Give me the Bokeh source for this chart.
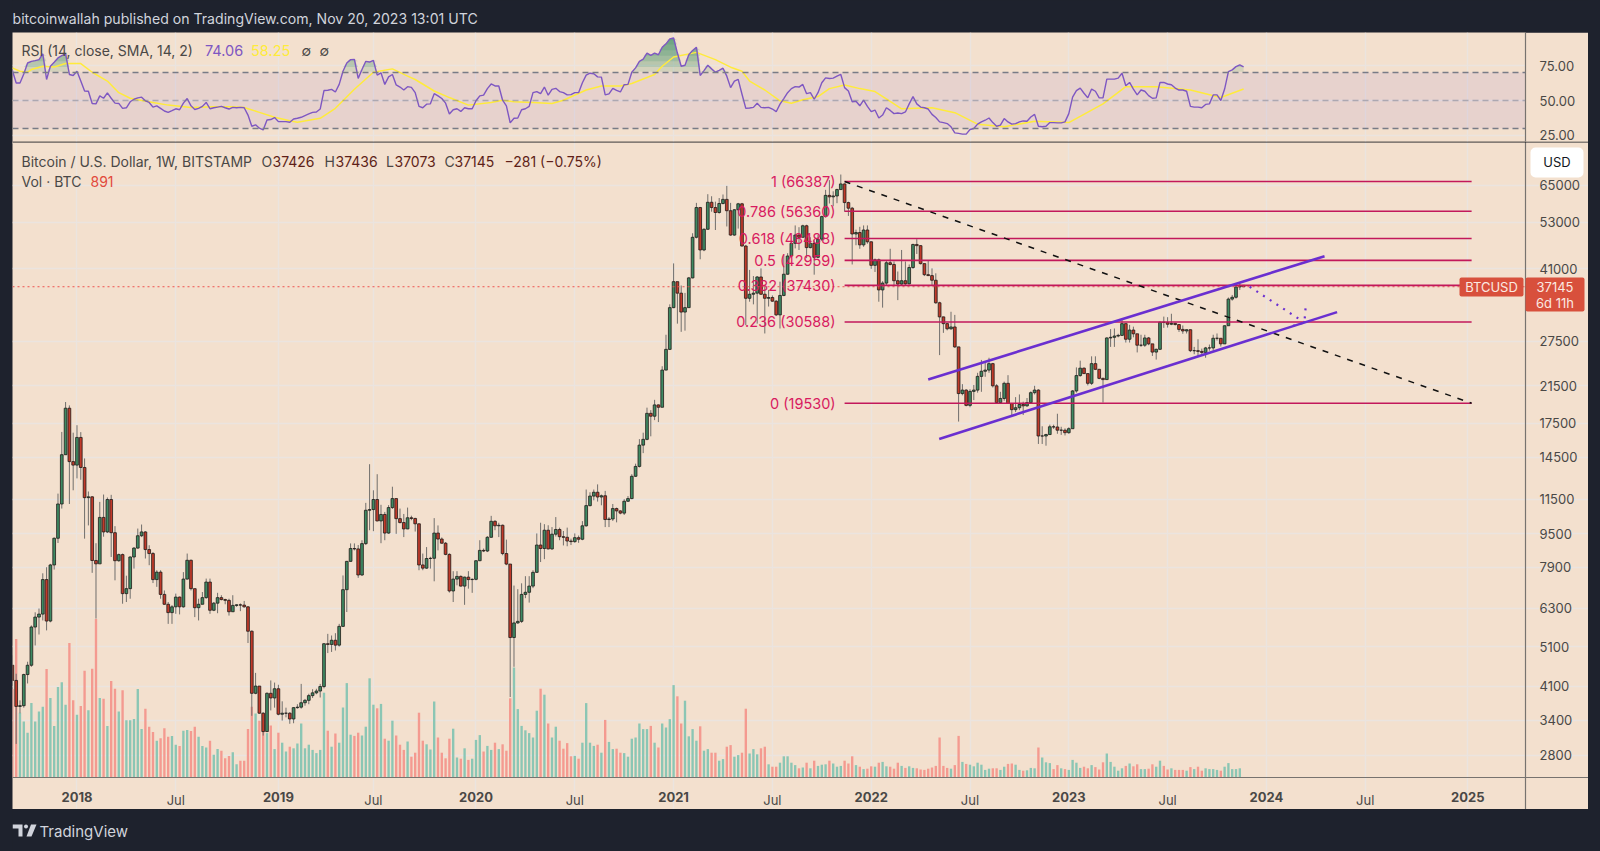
from bokeh.plotting import figure
from bokeh.layouts import column
from bokeh.models import (Range1d, FixedTicker, NumeralTickFormatter, Label, LabelSet, Span, BoxAnnotation,
                          ColumnDataSource, LinearAxis, LinearScale, GlobalInlineStyleSheet)
from bokeh.core.properties import value
from bokeh.embed import file_html
from bokeh.resources import INLINE
import numpy as np

# ---------- weekly data ----------
first_open = 4600
closes = [
 4230,3665,3680,4370,4600,5680,6000,6100,7380,5870,
 8000,9270,11200,14700,19000,14150,13880,16170,13700,11600,
 11650,8200,8050,10400,9600,11480,9560,8190,8470,6830,
 7020,8360,8780,9400,9600,8710,8520,7380,7690,6800,
 6440,6150,6350,6700,6350,7400,8210,7020,6320,6440,
 6680,7280,6230,6480,6680,6610,6580,6180,6400,6420,
 6410,6350,5550,3940,4100,3530,3190,3940,3840,4040,
 3510,3530,3530,3420,3640,3650,3740,3790,3890,3950,
 3990,4090,5180,5160,5280,5140,5700,6980,8160,8760,
 8740,7570,9000,10820,10860,11480,10200,10570,9540,10980,
 11540,10330,10110,9760,10380,10340,10040,8000,7860,8290,
 8300,9540,9230,9020,8480,6930,7400,7510,7120,7480,
 7380,7390,8190,8670,8640,9320,10180,9930,9960,8520,
 8040,5360,5810,5860,6800,6880,7120,7680,8930,8760,
 9690,8740,9480,9730,9350,9320,9130,9100,9300,9220,
 9930,11100,11700,11950,11640,11720,10280,10310,10920,10780,
 10650,11370,11540,13050,13780,15500,16000,18470,18180,19350,
 19100,23450,26290,33100,38200,35850,32300,33100,39000,48800,
 57500,45500,51000,59200,57500,55950,58800,60150,56500,49400,
 56800,58700,46500,34850,35640,35850,39200,35640,34850,35000,
 34300,31800,35400,39800,44000,47200,49400,48800,52000,46100,
 47200,43700,48300,54700,61500,61000,61300,63500,65500,59100,
 57300,49700,50100,46800,50800,47600,41800,43100,36500,37900,
 42400,42000,38400,37700,38400,37750,41300,46900,46600,42200,
 39700,39500,38500,34000,31450,30300,29450,29750,26650,20600,
 21000,19300,20850,21000,22650,23300,23450,24300,21500,19600,
 20050,21800,19500,18850,19050,19400,19250,19600,20700,21000,
 16300,16300,16430,17150,17130,16830,16830,16600,16970,20900,
 22750,23700,23000,21800,24300,23550,22400,22250,28000,28100,
 28300,28400,30300,27800,29250,28650,26900,26900,28000,27100,
 25900,26300,30550,30500,30200,30350,30150,29350,29100,29300,
 26100,26100,26000,25850,26500,26500,27950,27950,27100,29950,
 34700,35050,37100,37426,37145]
highs = [
 4860,4390,3790,4390,4690,5730,6160,6290,7640,7900,
 8050,9310,11860,16670,19660,19300,16600,17300,16650,14400,
 12000,11700,9020,11330,11800,11610,11780,9910,8520,8520,
 7540,8390,8830,9780,10000,9640,8920,8590,7770,7770,
 6950,6520,6410,6830,6720,7690,8520,8240,7020,6640,
 6890,7420,7420,6520,6860,6770,6640,6640,6770,6440,
 6470,6560,6370,5575,4410,4100,3550,3960,4230,4180,
 4130,3770,3640,3550,3650,3710,4150,3820,3930,4030,
 4040,4150,5200,5470,5420,5490,5780,7550,8180,9010,
 9010,8930,9170,11270,13950,12080,13200,11150,10720,11130,
 12320,11540,10920,10600,10980,10500,10380,10050,8520,8830,
 8370,10360,9950,9310,9080,8530,7730,7730,7550,7500,
 7730,7430,8200,9170,8760,9380,10490,10240,10100,10000,
 9200,8030,7140,7000,7230,7520,7520,7770,9520,10100,
 10020,9960,9860,10420,9830,9650,9830,9250,9520,9410,
 10190,12130,11950,12130,12480,11800,12040,10420,11200,10980,
 10820,11500,11700,13200,13990,16020,16600,19060,18800,19900,
 19400,23950,28500,33700,42250,38000,37400,35900,39200,49900,
 59000,57700,51300,61900,61200,59400,60600,61800,64800,59000,
 57000,59000,59000,46800,40750,39400,39400,41100,37400,36500,
 35400,34500,38200,44300,44700,47400,52100,51600,52300,52300,
 48800,48000,49400,55000,63400,66900,62900,63800,69000,65700,
 59400,57700,50900,51700,52100,52100,47700,43400,43400,38300,
 42800,45800,42700,40400,45500,42700,42000,47100,48300,46700,
 42200,43000,41100,40000,34200,31500,30400,32350,31800,26650,
 21700,21100,21100,21600,23100,24800,24500,25100,24400,21700,
 20800,22000,22800,19500,20200,20500,19700,20100,20850,21500,
 21100,17200,16500,17350,17350,18430,17150,17000,17100,21000,
 23800,24700,23800,23050,25300,25300,23600,22500,28100,29400,
 29500,28650,31000,30300,30100,29800,28500,28500,28500,28150,
 26900,26400,30650,31500,31400,32000,30450,30200,30000,29350,
 29350,26650,27800,26400,26650,27000,28500,28700,27950,30000,
 35000,35500,37200,37900,37436]
lows = [
 4100,2980,3530,3640,4160,4560,5130,5450,5890,5575,
 5830,7800,9030,10920,14700,11200,12080,12900,12800,9250,
 9950,7660,5950,8090,9350,9540,8360,7350,8140,6460,
 6520,6640,7840,8750,9330,8290,7990,7240,7090,6640,
 6420,5780,5780,6110,6090,6320,7380,6950,6000,5890,
 6440,6640,6110,6200,6130,6580,6440,6050,6170,6350,
 6200,6320,5200,3480,3920,3520,3120,3180,3585,3640,
 3490,3390,3450,3330,3340,3620,3620,3680,3710,3840,
 3920,3850,4050,4920,4950,4990,5100,5680,6170,8150,
 8670,7450,7530,8930,9690,9640,10180,9020,9170,9500,
 10900,9500,10060,9330,9750,10240,9620,7770,7770,7830,
 7840,7310,8670,9000,8440,6870,6520,7150,7100,6420,
 7020,6860,7350,8170,8590,8590,9300,9690,9330,8440,
 7990,3860,4560,5780,5810,6660,6500,7040,7660,8130,
 8260,8720,8700,9360,9170,8910,8870,8930,9040,9040,
 9170,9880,11050,11430,11350,11120,9860,9860,10200,10120,
 10580,10540,11330,11500,13000,13700,14830,15920,16270,17790,
 17600,19100,23450,26200,33000,30300,28960,29150,33100,38900,
 48500,43220,45200,50900,56200,50800,55600,58500,51800,49200,
 49200,51200,46400,30050,34200,33700,30300,35500,28700,33300,
 34200,31600,29500,35250,39700,43700,45900,45500,48800,43500,
 45900,39700,43500,47800,54400,58800,57900,58900,63400,56200,
 54900,42000,46700,45800,46300,47100,41000,40300,34200,33100,
 37300,41800,37300,34500,37300,37300,37600,41000,44500,42000,
 39400,39400,37300,33800,25470,28800,29200,29300,26500,17650,
 20400,19200,19100,19870,20700,20800,22600,23100,21300,19500,
 19550,19800,19500,18300,18600,18800,18300,19150,19500,20500,
 15600,15600,15450,16400,16950,16500,16400,16350,16500,17000,
 20700,22600,22950,21550,21600,23450,22300,19600,22200,26650,
 26650,28100,28300,27300,27300,28100,25850,26650,26650,26900,
 25350,24850,26200,29600,29650,30050,30000,28950,28650,28700,
 25900,25600,25300,25600,25100,26100,26100,27600,26700,27100,
 29950,34400,34800,36500,37073]
# volume in thousands of BTC
volumes = [
 221,346,162,140,112,186,140,165,177,271,
 199,129,226,238,182,336,193,157,179,267,
 168,272,396,199,197,129,241,222,165,218,
 143,143,146,221,121,172,127,114,92,98,
 123,102,104,82,79,117,119,116,127,102,
 79,75,92,57,71,67,48,54,63,33,
 42,42,121,177,160,142,132,111,130,71,
 112,87,65,77,73,85,135,73,82,69,
 61,69,212,117,77,110,87,175,236,107,
 104,112,105,127,248,182,173,184,97,92,
 142,105,82,69,90,52,62,162,92,83,
 70,190,100,62,48,97,122,50,47,73,
 44,47,94,106,65,79,69,87,71,83,
 67,198,275,171,129,118,111,100,167,222,
 207,135,100,127,92,72,86,53,54,47,
 87,186,87,79,82,62,144,89,71,72,
 62,61,52,97,100,135,121,121,129,87,
 75,135,125,146,231,203,135,192,103,121,
 92,128,67,71,62,62,42,46,77,81,
 52,56,62,172,60,71,58,73,77,33,
 27,27,37,53,53,37,31,23,25,37,
 23,42,29,32,33,42,35,27,29,42,
 35,53,31,27,21,22,28,27,37,39,
 28,27,22,37,29,24,28,24,23,20,
 19,22,25,29,100,29,24,22,31,104,
 39,34,32,28,37,32,19,22,23,23,
 19,27,34,35,32,19,17,18,24,23,
 75,50,38,36,21,31,23,21,19,44,
 37,24,27,23,31,26,20,38,60,39,
 27,17,23,29,35,28,33,21,21,22,
 33,27,42,29,20,23,19,19,19,17,
 26,21,27,17,23,21,21,19,17,27,
 36,21,21,23,0.891]
rsi_vals = [
 71.4,62.5,62.5,69,76.8,78,78.5,79.2,83.4,65,
 74.5,77.3,80.4,82,83.4,68.6,67.9,70.9,63.9,56.8,
 56.6,47.9,47.6,53.3,51.6,55.4,51.6,48.1,47.9,44.4,
 44.8,49.1,50.9,51.9,52.4,49.8,48.6,45.3,46.2,44.4,
 42.5,41.5,42.7,44.1,43.4,48.1,51.4,46.2,43.6,44.4,
 45.8,48.6,44.1,44.8,45.3,45.8,44.8,43.9,45.1,44.8,
 45.1,44.8,39.6,31.6,32.6,30.2,29,36.1,36.4,37.8,
 34.9,34.9,34.9,34.5,36.8,37.3,38,39.2,40.4,41.5,
 41.8,43.9,57.1,57.3,58,56.1,61.5,70.9,76.8,79.2,
 79.4,65.8,72.1,78,77.5,78.7,68.1,69.8,61.5,66.9,
 68.6,61.1,59.6,57.5,59.9,59.4,55.6,45.8,44.8,47.4,
 47.6,54.9,53.3,51.4,48.1,40.4,43.4,44.1,42.2,44.8,
 44.1,44.1,49.8,53.3,53.8,58.5,61.8,60.4,60.4,50.2,
 46.2,34,37.3,37.5,43.4,44.1,45.8,
 55.6,56.4,54.9,
 59.6,53.8,58,58.7,56.4,55.6,54,54.2,55.6,55.6,
 62.7,68.1,69.5,69.1,66.9,66.7,54,54.7,58.7,57.3,
 56.1,61.3,61.5,70.2,73.3,78,79.6,83.9,82.2,83.9,
 82.7,88.1,90.5,94,94.7,83.9,74.5,75.2,82.7,85.8,
 88.1,67.9,71.4,75.2,72.6,70.2,71.6,73.1,67.4,59.2,
 63.9,65.1,54.5,44.4,44.6,45.1,48.1,45.1,44.8,45.1,
 43.9,42,47.4,51.4,55.6,58.5,59.9,59.6,61.5,54.9,
 55.6,50.9,55.6,62.7,66.2,65.7,66,67.4,68.6,59.2,
 56.8,49.1,49.5,46.2,50.2,45.8,42,43.2,37.5,39.6,
 44.8,
 42.9,40.6,41.1,40.6,41.8,47.6,52.8,47.6,45.3,
 44.8,43.9,40.1,37.8,34.7,34.2,33.5,31.2,26.9,26.5,
 26,26,29.3,30,33.1,34.7,35.9,37.5,34.2,31.6,
 32.4,37.1,34.7,33.1,33.5,34.7,35.4,35.2,38.2,40.1,
 31.6,31.2,31.6,34.2,34.2,34,34,34.7,40.6,52.4,
 57.1,58.9,55.2,51.9,58.2,56.6,51.9,51.9,65.3,65.3,
 65.3,66,69.5,60.6,62.9,58.2,54,57.5,56.6,53.5,
 51.6,51.9,62.9,62.9,61.8,61.3,58.9,57.5,57.5,56.6,
 45.8,45.3,45.3,44.8,47.2,47.6,54,54,50,58.2,
 70.7,71.9,74.2,75.4,74.06]
ma_weeks = [-17,-15,-13,-12,-9,-6,-3,1,4,8,11,14,16,20,24,30,36,41,44,48,52,56,58,64,68,73,78,83,87,89,94,98,103,109,112,115,120,
            125,128,134,138,143,146,152,154,157,163,168,172,175,177,181,185,188,191,195,198,202,206,210,214,
            217,225,231,237,244,252,261,270,276,284,293,301,307]
ma_vals = [73.3,70.9,70.2,72.1,74.5,74,76.4,76.4,70.2,63.9,55.6,51.6,50.5,48.6,46.7,45,45.5,45.5,45,41.5,38,35.6,34.5,37.3,44.4,58,70.2,72.6,67.4,65,56.8,52.1,46.7,48.6,50.2,49.1,48.6,
           47.9,50.2,57.5,60.4,60.4,62.2,68.6,74.5,81.1,84.4,79.2,73.8,70.9,63.9,57.5,49.8,48.1,50.5,52.8,58.5,61.1,58.5,56.4,49.3,
           44.1,44.8,41.3,33.1,31.2,35.2,34.2,47.6,59.9,59.9,57.5,52.1,58.25]

fib_levels = [66387, 56360, 48488, 42959, 37430, 30588, 19530]
fib_names = ["1 (66387)", "0.786 (56360)", "0.618 (48488)", "0.5 (42959)", "0.382 (37430)", "0.236 (30588)", "0 (19530)"]
fib_start_week, fib_end_week = 202, 367
last_price = 37145
upper_channel_weeks, upper_channel_prices = [224, 328.3], [22267, 43970]
lower_channel_weeks, lower_channel_prices = [226.9, 331.6], [16040, 32290]
trend_weeks, trend_prices = [202, 367], [66387, 19530]
proj_weeks, proj_prices = [308.6, 323], [37145, 30500]
proj_head_weeks, proj_head_prices = [320, 323, 323.3], [29950, 30500, 32960]

price_ticks = [2800,3400,4100,5100,6300,7900,9500,11500,14500,17500,21500,27500,41000,53000,65000]
rsi_ticks = [25, 50, 75]
year_ticks = [0,53,105,157,209,261,313,366]
year_labels = ["2018","2019","2020","2021","2022","2023","2024","2025"]
jul_ticks = [26,78,131,183,235,287,339]
jul_labels = ["Jul"]*7

# ---------- style ----------
DARK, BEIGE = "#1e222d", "#f3e0ce"
GRID, AXL, TXT = "#ebe4df", "#77736f", "#4a4846"
FONT = "Inter"
assert len(closes)==len(highs)==len(lows)==len(volumes)==len(rsi_vals)==325, (len(closes),len(highs),len(lows),len(volumes),len(rsi_vals))
weeks = np.arange(-17, 308)
opens = [first_open]+closes[:-1]
up = np.array(closes) >= np.array(opens)
WEEK_MIN, WEEK_PANE_END, WEEK_MAX = -16.97, 381.18, 397.76
PRICE_BASE, PRICE_TOP, PRICE_MIN = 2476, 82790, 2075
all_ticks = sorted(year_ticks+jul_ticks)

def lbl(fig, ox, oy, x, y, text, color=TXT, size=14, style="normal", align="left"):
    fig.add_layout(Label(x=x-ox, y=y-oy, x_units="canvas", y_units="canvas", text=text, text_color=color,
                         text_font=FONT, text_font_size=f"{size}px", text_font_style=style,
                         text_align=align, text_baseline="middle"))

def box(fig, ox, oy, l, r, t, b, color, radius=0):
    fig.add_layout(BoxAnnotation(left=l-ox, right=r-ox, top=t-oy, bottom=b-oy,
                                 left_units="canvas", right_units="canvas", top_units="canvas", bottom_units="canvas",
                                 fill_color=color, fill_alpha=1, line_color=None, border_radius=radius))

def bare(h, border, **kw):
    f = figure(width=1576, height=h, output_backend="svg", toolbar_location=None, x_axis_type=None, y_axis_type=None,
               border_fill_color=border, background_fill_color=border, outline_line_color=None,
               min_border=0, margin=(0,0,0,12), frame_align=False, **kw)
    f.grid.visible = False
    return f

# ---------- header ----------
head = bare(32, DARK, x_range=(0,1), y_range=(0,1))
lbl(head, 12, 0, 12, 18, "bitcoinwallah published on TradingView.com, Nov 20, 2023 13:01 UTC", "#d1d4dc", 14.1)

# ---------- RSI pane ----------
rp = figure(width=1576, height=112, output_backend="svg", toolbar_location=None, x_range=Range1d(WEEK_MIN, WEEK_PANE_END),
            y_range=Range1d(20.7, 98.6), y_axis_location="right", border_fill_color=BEIGE, background_fill_color=BEIGE,
            outline_line_color=None, min_border=0, min_border_right=63, min_border_bottom=3, margin=(0,0,0,12), frame_align=False)
rp.xaxis.visible = False
rp.xgrid.ticker = FixedTicker(ticks=all_ticks)
rp.xgrid.grid_line_color = GRID; rp.xgrid.grid_line_width = 1.4
rp.yaxis.ticker = FixedTicker(ticks=rsi_ticks)
rp.yaxis.formatter = NumeralTickFormatter(format="0.00")
rp.yaxis.major_tick_line_color = None; rp.yaxis.minor_tick_line_color = None
rp.yaxis.axis_line_color = AXL; rp.yaxis.axis_line_width = 1.2
rp.yaxis.major_label_text_color = TXT; rp.yaxis.major_label_text_font = FONT
rp.yaxis.major_label_text_font_size = "13px"; rp.yaxis.major_label_standoff = 8
rp.ygrid.grid_line_color = GRID; rp.ygrid.grid_line_width = 1.4
rp.add_layout(BoxAnnotation(bottom=30, top=70, fill_color="#7e57c2", fill_alpha=0.1, line_color=None, level="underlay"))
for lv, col, a in [(30,"#787b86",1),(50,"#787b86",0.5),(70,"#787b86",1)]:
    rp.add_layout(Span(location=lv, dimension="width", line_color=col, line_alpha=a, line_dash=[6,4], line_width=1.3))
rsi = np.array(rsi_vals)
for lv in [70.5, 74, 78, 82, 86, 90, 93]:
    rp.varea(weeks, np.full(len(rsi), float(lv)), np.maximum(rsi, lv), fill_color="#2a8a5c", fill_alpha=0.16)
rp.line(ma_weeks, ma_vals, line_color="#ffeb3b", line_width=1.5)
rp.line(weeks, rsi_vals, line_color="#7e57c2", line_width=1.4)
lbl(rp, 12, 32, 21, 50, "RSI (14, close, SMA, 14, 2)")
lbl(rp, 12, 32, 204.5, 50, "74.06", "#7e57c2", 14.5)
lbl(rp, 12, 32, 250.5, 50, "58.25", "#ffeb3b", 14.5)
lbl(rp, 12, 32, 301, 50, "\u2205")
lbl(rp, 12, 32, 319, 50, "\u2205")

# ---------- price pane ----------
# the plot frame fills the whole pane, the axes sit inside it at fixed locations, so tags can overlap the axis strips
p = figure(width=1576, height=668, output_backend="svg", toolbar_location=None, x_range=Range1d(WEEK_MIN, WEEK_MAX),
           y_axis_type="log", y_range=Range1d(PRICE_MIN, PRICE_TOP), y_axis_location="right",
           border_fill_color=BEIGE, background_fill_color=BEIGE, outline_line_color=None, min_border=0,
           margin=(-3,0,0,12), frame_align=False)
p.extra_y_ranges = {"vol": Range1d(-80, 1590)}
p.extra_y_scales = {"vol": LinearScale()}
p.xgrid.ticker = FixedTicker(ticks=all_ticks)
p.xgrid.bounds = (PRICE_BASE, PRICE_TOP)
p.xgrid.grid_line_color = GRID; p.xgrid.grid_line_width = 1.4
p.ygrid.bounds = (WEEK_MIN, WEEK_PANE_END)
p.ygrid.grid_line_color = GRID; p.ygrid.grid_line_width = 1.4
p.ygrid.minor_grid_line_color = None

def style_x(ax):
    ax.fixed_location = PRICE_BASE
    ax.major_label_text_font = FONT; ax.major_label_text_font_size = "13px"
    ax.major_label_text_color = TXT; ax.major_label_standoff = 9
    ax.major_tick_line_color = None; ax.minor_tick_line_color = None
    ax.axis_line_color = AXL; ax.axis_line_width = 1.2

xa = p.xaxis[0]
xa.ticker = FixedTicker(ticks=year_ticks)
xa.major_label_overrides = dict(zip(year_ticks, year_labels))
xa.major_label_text_font_style = "bold"
style_x(xa)
xb = LinearAxis(ticker=FixedTicker(ticks=jul_ticks), major_label_overrides=dict(zip(jul_ticks, jul_labels)))
style_x(xb)
p.add_layout(xb, "below")

ya = p.yaxis[0]
ya.fixed_location = WEEK_PANE_END
ya.ticker = FixedTicker(ticks=price_ticks)
ya.formatter = NumeralTickFormatter(format="0")
ya.major_tick_line_color = None; ya.minor_tick_line_color = None
ya.axis_line_color = AXL; ya.axis_line_width = 1.2
ya.major_label_text_color = TXT; ya.major_label_text_font = FONT
ya.major_label_text_font_size = "13px"; ya.major_label_standoff = 8

ds = ColumnDataSource(dict(week=weeks, o=opens, c=closes, h=highs, l=lows, v=volumes,
                           top=np.maximum(opens, closes), bot=np.minimum(opens, closes),
                           vc=["#8bc6b4" if u else "#f49a90" for u in up],
                           fc=["#3e8a63" if u else "#c13a2a" for u in up]))
p.vbar(x="week", bottom=0, top="v", width=0.62, fill_color="vc", line_color=None, source=ds, y_range_name="vol")
p.segment(x0="week", y0="l", x1="week", y1="h", line_color="#706e6c", line_width=1, source=ds)
p.vbar(x="week", bottom="bot", top="top", width=0.72, fill_color="fc", line_color="#1f1a18", line_width=0.8, source=ds)

p.line([WEEK_MIN, WEEK_PANE_END], [last_price, last_price], line_color="#ef5350", line_dash=[2,3], line_width=1)
for lv in fib_levels:
    p.line([fib_start_week, fib_end_week], [lv, lv], line_color="#c2185b", line_width=1.6)
fib_src = ColumnDataSource(dict(x=[fib_start_week]*len(fib_levels), y=fib_levels, t=fib_names))
p.add_layout(LabelSet(x="x", y="y", text="t", source=fib_src, x_offset=-9, text_align="right", text_baseline="middle",
                      text_color="#d81b60", text_font=value(FONT), text_font_size="14.5px"))
p.line(trend_weeks, trend_prices, line_color="#111111", line_width=1.5, line_dash=[6,7])
p.line(upper_channel_weeks, upper_channel_prices, line_color="#6a2fd0", line_width=2.6)
p.line(lower_channel_weeks, lower_channel_prices, line_color="#6a2fd0", line_width=2.6)
p.line(proj_weeks, proj_prices, line_color="#6a2fd0", line_width=2.2, line_dash=[2,6])
p.line(proj_head_weeks, proj_head_prices, line_color="#6a2fd0", line_width=2.2, line_dash=[2,6])

OX, OY = 12, 141
box(p, OX, OY, 12, 1588, 141, 142, "#16181f")
box(p, OX, OY, 1530, 1583, 147, 177, "#ffffff", 5)
lbl(p, OX, OY, 1556.5, 161.5, "USD", "#131722", 13, "normal", "center")
box(p, OX, OY, 1459, 1523, 277, 296, "#d8503c", 2)
lbl(p, OX, OY, 1491, 286.5, "BTCUSD", "#fbe9e1", 13, "normal", "center")
box(p, OX, OY, 1525, 1584, 277, 311, "#d8503c", 2)
lbl(p, OX, OY, 1554.5, 286.5, "37145", "#fbe9e1", 13, "normal", "center")
lbl(p, OX, OY, 1554.5, 302, "6d 11h", "#fbe9e1", 13, "normal", "center")

lbl(p, OX, OY, 21, 161, "Bitcoin / U.S. Dollar, 1W, BITSTAMP")
MAROON = "#5e1f18"
for xt, letter, xv, val in [(261,"O",272,"37426"),(324,"H",335,"37436"),(385.5,"L",394,"37073"),(444,"C",454,"37145")]:
    lbl(p, OX, OY, xt, 161, letter)
    lbl(p, OX, OY, xv, 161, val, MAROON)
lbl(p, OX, OY, 504, 161, "\u2212281 (\u22120.75%)", MAROON)
lbl(p, OX, OY, 21, 181, "Vol \u00b7 BTC")
lbl(p, OX, OY, 90, 181, "891", "#e2493b")

# ---------- footer ----------
foot = bare(42, DARK, x_range=Range1d(12, 1588), y_range=Range1d(851, 809))
foot.patch([12,22,22,18,18,14,14,12],[824,824,836,836,828,828,828,828], fill_color="#d1d4dc", line_color=None)
foot.circle([25.5],[826],radius=2, fill_color="#d1d4dc", line_color=None)
foot.patch([30.5,36,31,26],[824,824,836,836], fill_color="#d1d4dc", line_color=None)
lbl(foot, 12, 809, 39, 831, "TradingView", "#d1d4dc", 15, "normal")

page = column(head, rp, p, foot, spacing=0,
              stylesheets=[GlobalInlineStyleSheet(css="html,body{background:#1e222d;overflow:hidden}")])
open("out.html", "w").write(file_html(page, INLINE))
